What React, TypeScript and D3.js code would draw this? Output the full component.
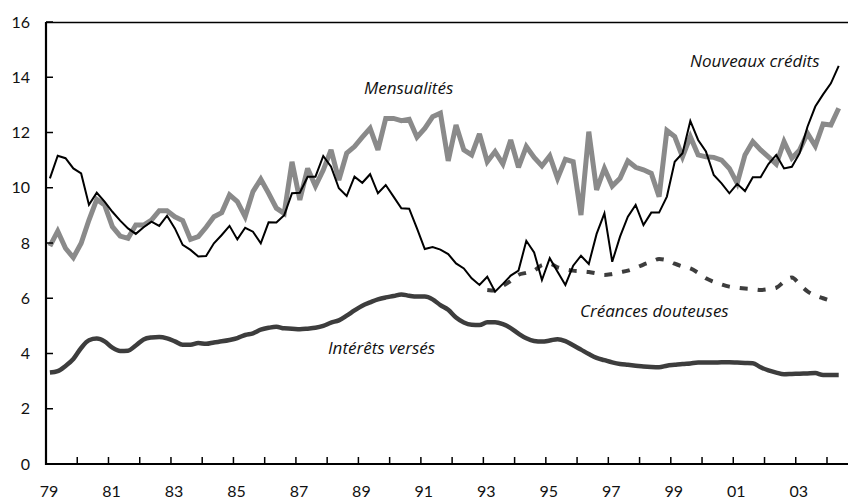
import React from "react";
import * as d3 from "d3";

// Quarterly series, 1979 T1 – 2004 T2
const START_YEAR = 1979;
const nouveauxCredits = [
  10.34, 11.16, 11.07, 10.7, 10.52, 9.38, 9.82, 9.5, 9.13, 8.81, 8.53, 8.33, 8.57, 8.77, 8.62, 8.99,
  8.53, 7.93, 7.75, 7.51, 7.53, 7.99, 8.29, 8.62, 8.13, 8.55, 8.41, 7.99, 8.75, 8.74, 9.01, 9.8,
  9.82, 10.4, 10.4, 11.15, 10.76, 9.98, 9.7, 10.4, 10.18, 10.49, 9.8, 10.1, 9.68, 9.26, 9.24, 8.53,
  7.78, 7.85, 7.76, 7.6, 7.26, 7.08, 6.72, 6.48, 6.78, 6.24, 6.52, 6.82, 7.0, 8.08, 7.66, 6.66,
  7.45, 6.96, 6.48, 7.18, 7.54, 7.24, 8.33, 9.07, 7.32, 8.23, 8.95, 9.38, 8.65, 9.1, 9.1, 9.68,
  10.94, 11.25, 12.42, 11.73, 11.31, 10.46, 10.16, 9.8, 10.14, 9.88, 10.38, 10.38, 10.86, 11.19, 10.7, 10.76,
  11.25, 12.21, 12.94, 13.38, 13.78, 14.41,
];
const mensualites = [
  7.89, 8.43, 7.81, 7.47, 7.99, 8.83, 9.58, 9.38, 8.59, 8.25, 8.17, 8.65, 8.65, 8.83, 9.17, 9.17,
  8.95, 8.81, 8.13, 8.23, 8.57, 8.95, 9.1, 9.74, 9.5, 8.95, 9.86, 10.31, 9.8, 9.26, 9.07, 10.94,
  9.56, 10.7, 10.06, 10.64, 11.37, 10.28, 11.25, 11.49, 11.83, 12.15, 11.37, 12.51, 12.51, 12.43, 12.48, 11.83,
  12.15, 12.57, 12.7, 10.97, 12.27, 11.37, 11.19, 11.95, 10.94, 11.31, 10.86, 11.73, 10.74, 11.49, 11.1, 10.79,
  11.15, 10.34, 11.03, 10.94, 9.01, 12.03, 9.92, 10.7, 10.06, 10.34, 10.97, 10.74, 10.65, 10.52, 9.68, 12.07,
  11.85, 11.12, 11.85, 11.19, 11.12, 11.1, 11.0, 10.7, 10.16, 11.19, 11.67, 11.37, 11.12, 10.86, 11.67, 11.07,
  11.37, 11.97, 11.51, 12.31, 12.27, 12.88,
];
const interetsVerses = [
  3.31, 3.36, 3.55, 3.8, 4.2, 4.48, 4.54, 4.44, 4.21, 4.09, 4.1, 4.29, 4.51, 4.58, 4.6, 4.55,
  4.44, 4.32, 4.32, 4.38, 4.35, 4.4, 4.44, 4.49, 4.56, 4.67, 4.73, 4.86, 4.93, 4.97, 4.91, 4.9,
  4.88, 4.9, 4.93, 5.0, 5.12, 5.2, 5.37, 5.56, 5.73, 5.85, 5.96, 6.03, 6.08, 6.14, 6.09, 6.06,
  6.06, 5.96, 5.75, 5.58, 5.3, 5.12, 5.04, 5.03, 5.13, 5.13, 5.06, 4.92, 4.72, 4.55, 4.45, 4.43,
  4.47, 4.52, 4.45, 4.3, 4.14, 3.98, 3.84, 3.76, 3.68, 3.62, 3.59, 3.56, 3.53, 3.51, 3.5, 3.56,
  3.59, 3.62, 3.64, 3.67, 3.67, 3.67, 3.68, 3.68, 3.67, 3.66, 3.65, 3.5, 3.39, 3.31, 3.25, 3.26,
  3.27, 3.28, 3.29, 3.22, 3.22, 3.22,
];
// Créances douteuses: quarterly from 1993 T1 to 2004 T1
const CREANCES_START_INDEX = 56;
const creancesDouteuses = [
  6.3, 6.28, 6.45, 6.63, 6.85, 6.92, 7.0, 7.2, 7.25, 7.12, 7.05, 7.0, 6.98, 6.95, 6.9, 6.84,
  6.88, 6.94, 7.0, 7.1, 7.22, 7.32, 7.42, 7.38, 7.25, 7.15, 7.08, 6.92, 6.72, 6.6, 6.5, 6.42,
  6.38, 6.35, 6.33, 6.3, 6.33, 6.38, 6.6, 6.75, 6.5, 6.25, 6.1, 6.0, 5.9,
];
const yTicks = [0, 2, 4, 6, 8, 10, 12, 14, 16];
const xTickYears = d3.range(1979, 2005);
const seriesLabels = ["Mensualités", "Nouveaux crédits", "Créances douteuses", "Intérêts versés"];

const W = 848;
const H = 500;
const left = 46;
const top = 22;
const bottom = 464;
const pxPerYear = 31.24;

export default function App() {
  const x = d3.scaleLinear().domain([START_YEAR, START_YEAR + (W - left) / pxPerYear]).range([left, W]);
  const y = d3.scaleLinear().domain([0, 16]).range([bottom, top]);
  const tOf = (i: number) => START_YEAR + (i + 0.5) / 4;

  const line = d3
    .line<number>()
    .x((_, i) => x(tOf(i)))
    .y((d) => y(d));
  const smoothLine = d3
    .line<number>()
    .x((_, i) => x(tOf(i)))
    .y((d) => y(d))
    .curve(d3.curveMonotoneX);
  const creLine = d3
    .line<number>()
    .x((_, i) => x(tOf(i + CREANCES_START_INDEX)))
    .y((d) => y(d))
    .curve(d3.curveMonotoneX);

  const font = "Lato, 'Open Sans', sans-serif";
  const labelFont = "'Open Sans', Lato, sans-serif";

  return (
    <svg
      width={W}
      height={H}
      style={{ position: "absolute", left: 0, top: 0, background: "#fff" }}
      fontFamily={font}
    >
      {/* top border */}
      <line x1={left} x2={W} y1={top + 0.5} y2={top + 0.5} stroke="#000" strokeWidth={1.4} />

      {/* series */}
      <path d={smoothLine(interetsVerses) || ""} fill="none" stroke="#3d3d3d" strokeWidth={4.5} strokeLinejoin="round" />
      <path d={creLine(creancesDouteuses) || ""} fill="none" stroke="#3d3d3d" strokeWidth={4} strokeDasharray="8,10" />
      <path d={line(mensualites) || ""} fill="none" stroke="#8a8a8a" strokeWidth={5} strokeLinejoin="miter" strokeMiterlimit={3} />
      <path d={line(nouveauxCredits) || ""} fill="none" stroke="#000" strokeWidth={2} />

      {/* axes */}
      <line x1={left} x2={left} y1={top} y2={bottom + 1} stroke="#000" strokeWidth={2.2} />
      <line x1={left - 1} x2={W} y1={bottom} y2={bottom} stroke="#000" strokeWidth={2.2} />
      {yTicks.map((t) => (
        <g key={"y" + t}>
          <line x1={left} x2={left + 7} y1={y(t)} y2={y(t)} stroke="#000" strokeWidth={1.5} />
          <text x={30} y={y(t) + 5.5} textAnchor="end" fontSize={16} fill="#111">
            {t}
          </text>
        </g>
      ))}
      {xTickYears.map((yr) => (
        <g key={"x" + yr}>
          <line x1={x(yr)} x2={x(yr)} y1={bottom} y2={bottom - 7} stroke="#000" strokeWidth={1.5} />
          {yr % 2 === 1 && (
            <text x={x(yr) + 3} y={497} textAnchor="middle" fontSize={16} fill="#111">
              {String(yr % 100).padStart(2, "0")}
            </text>
          )}
        </g>
      ))}

      {/* labels */}
      <g fontFamily={labelFont} fontSize={17} fontStyle="italic" fill="#111">
        <text x={364} y={94}>{seriesLabels[0]}</text>
        <text x={690} y={67}>{seriesLabels[1]}</text>
        <text x={580} y={317}>{seriesLabels[2]}</text>
        <text x={328} y={354}>{seriesLabels[3]}</text>
      </g>
    </svg>
  );
}
